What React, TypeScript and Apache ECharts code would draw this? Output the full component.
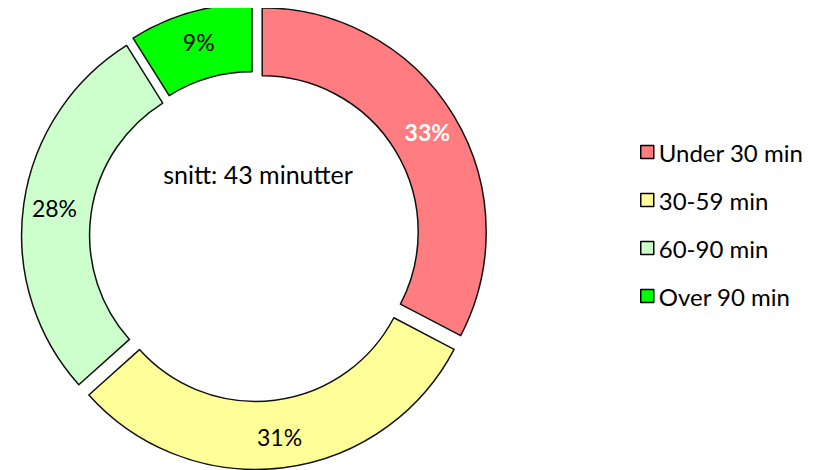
import React, { useEffect, useRef } from "react";
import * as echarts from "echarts";

const categories = ["Under 30 min", "30-59 min", "60-90 min", "Over 90 min"];
const values = [33, 31, 28, 9];
const colors = ["#FF7C80", "#FFFF99", "#CCFFCC", "#00FF00"];
const centerText = "snitt: 43 minutter";

const FONT = "Lato, 'Open Sans', sans-serif";

export default function App() {
  const ref = useRef<HTMLDivElement>(null);
  useEffect(() => {
    if (!ref.current) return;
    const chart = echarts.init(ref.current, null, { renderer: "svg" });
    const data = categories.map((name, i) => ({
      name,
      value: values[i],
      selected: true,
      itemStyle: { color: colors[i] },
      label:
        i === 0
          ? { color: "#ffffff", fontWeight: "bold" as const }
          : { color: "#000000", fontWeight: "normal" as const },
    }));
    chart.setOption({
      animation: false,
      backgroundColor: "#ffffff",
      legend: {
        orient: "vertical",
        left: 632,
        top: 130,
        padding: 0,
        itemWidth: 13,
        itemHeight: 13,
        itemGap: 20,
        icon: "rect",
        selectedMode: false,
        itemStyle: { borderColor: "#000000", borderWidth: 1.5 },
        textStyle: { fontSize: 24, fontFamily: FONT, color: "#000000", lineHeight: 28, padding: [0, 0, 0, 0] },
        data: categories,
      },
      graphic: [
        {
          type: "text",
          x: 250,
          y: 166,
          style: {
            text: centerText,
            fontSize: 25,
            fontFamily: FONT,
            fill: "#000000",
            align: "center",
            verticalAlign: "middle",
          },
        },
      ],
      series: [
        {
          type: "pie",
          center: [246.5, 228.5],
          radius: [156, 224],
          startAngle: 90,
          clockwise: true,
          selectedMode: "multiple",
          selectedOffset: 9,
          avoidLabelOverlap: false,
          itemStyle: { borderColor: "#111111", borderWidth: 1.5 },
          label: {
            show: true,
            position: "inside",
            formatter: "{c}%",
            fontSize: 23,
            fontFamily: FONT,
            padding: [7, 0, 0, 0],
          },
          labelLine: { show: false },
          emphasis: { disabled: true },
          select: { itemStyle: { borderColor: "#111111", borderWidth: 1.5 } },
          data,
        },
      ],
    });
    return () => chart.dispose();
  }, []);
  return <div ref={ref} style={{ width: 797, height: 462 }} />;
}
